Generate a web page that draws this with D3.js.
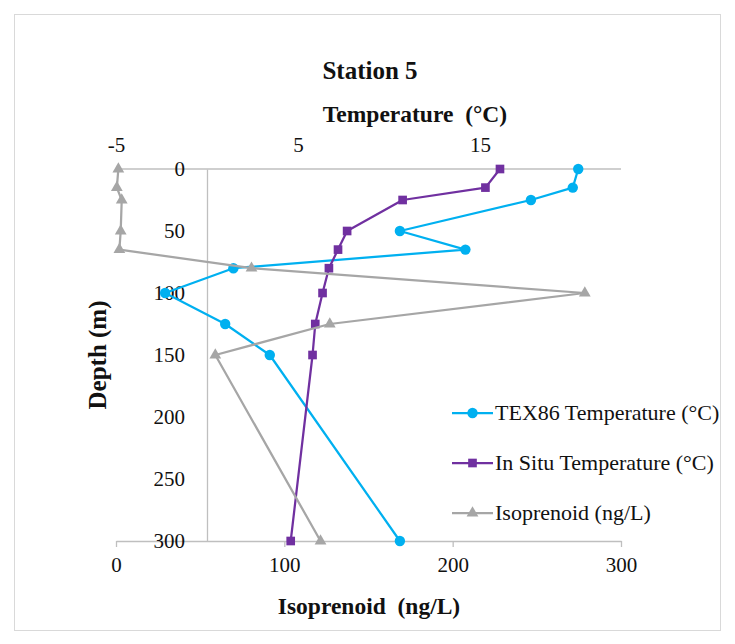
<!DOCTYPE html>
<html>
<head>
<meta charset="utf-8">
<script src="https://cdn.jsdelivr.net/npm/d3@7"></script>
<style>
  html, body { margin: 0; padding: 0; background: #fff; }
  svg { display: block; font-family: "Liberation Serif", "Times New Roman", serif; }
  svg text { font-family: "Liberation Serif", "Times New Roman", serif; }
</style>
</head>
<body>
<svg id="chart" width="735" height="644"></svg>
<script>
// ---- data ----
const depths = [0, 15, 25, 50, 65, 80, 100, 125, 150, 300];
const tex86Temp = [20.4, 20.1, 17.8, 10.6, 14.2, 1.45, -2.3, 1.0, 3.45, 10.6];
const inSituTemp = [16.1, 15.3, 10.75, 7.7, 7.2, 6.7, 6.35, 5.95, 5.8, 4.6];
const isoprenoid = [1.4, 0.5, 3.4, 2.8, 2.0, 80.5, 278.5, 127, 59, 121.5];
const tempTicks = [-5, 5, 15];
const depthTicks = [0, 50, 100, 150, 200, 250, 300];
const isoTicks = [0, 100, 200, 300];
const seriesNames = ["TEX86 Temperature (°C)", "In Situ Temperature (°C)", "Isoprenoid (ng/L)"];
const seriesColors = ["#00B0F0", "#7030A0", "#A6A6A6"];

const svg = d3.select("#chart");
const plot = { left: 116, right: 621, top: 169, bottom: 541 };
const serif = "'Liberation Serif', 'Times New Roman', serif";

// chart border
svg.append("rect").attr("x", 14.5).attr("y", 14.5).attr("width", 706).attr("height", 616)
  .attr("fill", "#fff").attr("stroke", "#d9d9d9").attr("stroke-width", 1);

const xT = d3.scaleLinear().domain([-5, 22.75]).range([plot.left, plot.right]);
const xI = d3.scaleLinear().domain([0, 300]).range([plot.left, plot.right]);
const y = d3.scaleLinear().domain([0, 300]).range([plot.top, plot.bottom]);

const axisColor = "#BFBFBF";
const textColor = "#111";

// top axis (temperature)
const gTop = svg.append("g").attr("transform", `translate(0,${plot.top})`)
  .call(d3.axisTop(xT).tickValues(tempTicks).tickSize(0).tickPadding(17).tickFormat(d => String(d)));
// bottom axis (isoprenoid)
const gBot = svg.append("g").attr("transform", `translate(0,${plot.bottom})`)
  .call(d3.axisBottom(xI).tickValues(isoTicks).tickSize(6).tickSizeOuter(0).tickPadding(10).tickFormat(d => String(d)));
// left axis (depth), crossing at temperature 0
const gLeft = svg.append("g").attr("transform", `translate(${xT(0)},0)`)
  .call(d3.axisLeft(y).tickValues(depthTicks).tickSize(0).tickPadding(22).tickFormat(d => String(d)));

[gTop, gBot, gLeft].forEach(g => {
  g.attr("font-family", null).attr("font-size", null);
  g.select(".domain").attr("stroke", axisColor).attr("stroke-width", 1.3);
  g.selectAll(".tick line").attr("stroke", axisColor).attr("stroke-width", 1.3);
  g.selectAll(".tick text").attr("fill", textColor)
    .style("font-size", "21px").style("font-family", serif);
});
gTop.select(".domain").attr("d", `M${plot.left},0H${plot.right}`);

// series
const symbols = [d3.symbolCircle, d3.symbolSquare, d3.symbolTriangle];
const symSizes = [85, 75, 60];
const seriesData = [
  depths.map((d, i) => [xT(tex86Temp[i]), y(d)]),
  depths.map((d, i) => [xT(inSituTemp[i]), y(d)]),
  depths.map((d, i) => [xI(isoprenoid[i]), y(d)])
];
const line = d3.line();
seriesData.forEach((pts, s) => {
  const g = svg.append("g");
  g.append("path").attr("d", line(pts)).attr("fill", "none")
    .attr("stroke", seriesColors[s]).attr("stroke-width", 2.25).attr("stroke-linejoin", "round");
  g.selectAll("path.m").data(pts).enter().append("path").attr("class", "m")
    .attr("transform", p => `translate(${p[0]},${p[1]})`)
    .attr("d", d3.symbol().type(symbols[s]).size(symSizes[s]))
    .attr("fill", seriesColors[s]);
});

// legend
const legY = [413, 463, 513];
seriesNames.forEach((name, s) => {
  const g = svg.append("g").attr("transform", `translate(452,${legY[s]})`);
  g.append("line").attr("x1", 0).attr("x2", 41).attr("y1", 0).attr("y2", 0)
    .attr("stroke", seriesColors[s]).attr("stroke-width", 2.25);
  g.append("path").attr("transform", "translate(20.5,0)")
    .attr("d", d3.symbol().type(symbols[s]).size(symSizes[s])).attr("fill", seriesColors[s]);
  g.append("text").attr("x", 43).attr("y", 7).style("font-size", "22px").attr("fill", textColor)
    .text(name);
});

// titles
svg.append("text").attr("x", 370).attr("y", 79).attr("text-anchor", "middle")
  .style("font-size", "25px").attr("font-weight", "bold").attr("fill", textColor).text("Station 5");
svg.append("text").attr("x", 415).attr("y", 122).attr("text-anchor", "middle")
  .style("font-size", "23.5px").attr("font-weight", "bold").attr("fill", textColor)
  .style("white-space", "pre").text("Temperature  (°C)");
svg.append("text").attr("x", 369).attr("y", 614).attr("text-anchor", "middle")
  .style("font-size", "23.5px").attr("font-weight", "bold").attr("fill", textColor)
  .style("white-space", "pre").text("Isoprenoid  (ng/L)");
svg.append("text").attr("transform", "translate(106,355) rotate(-90)").attr("text-anchor", "middle")
  .style("font-size", "25px").attr("font-weight", "bold").attr("fill", textColor).text("Depth (m)");
</script>
</body>
</html>
